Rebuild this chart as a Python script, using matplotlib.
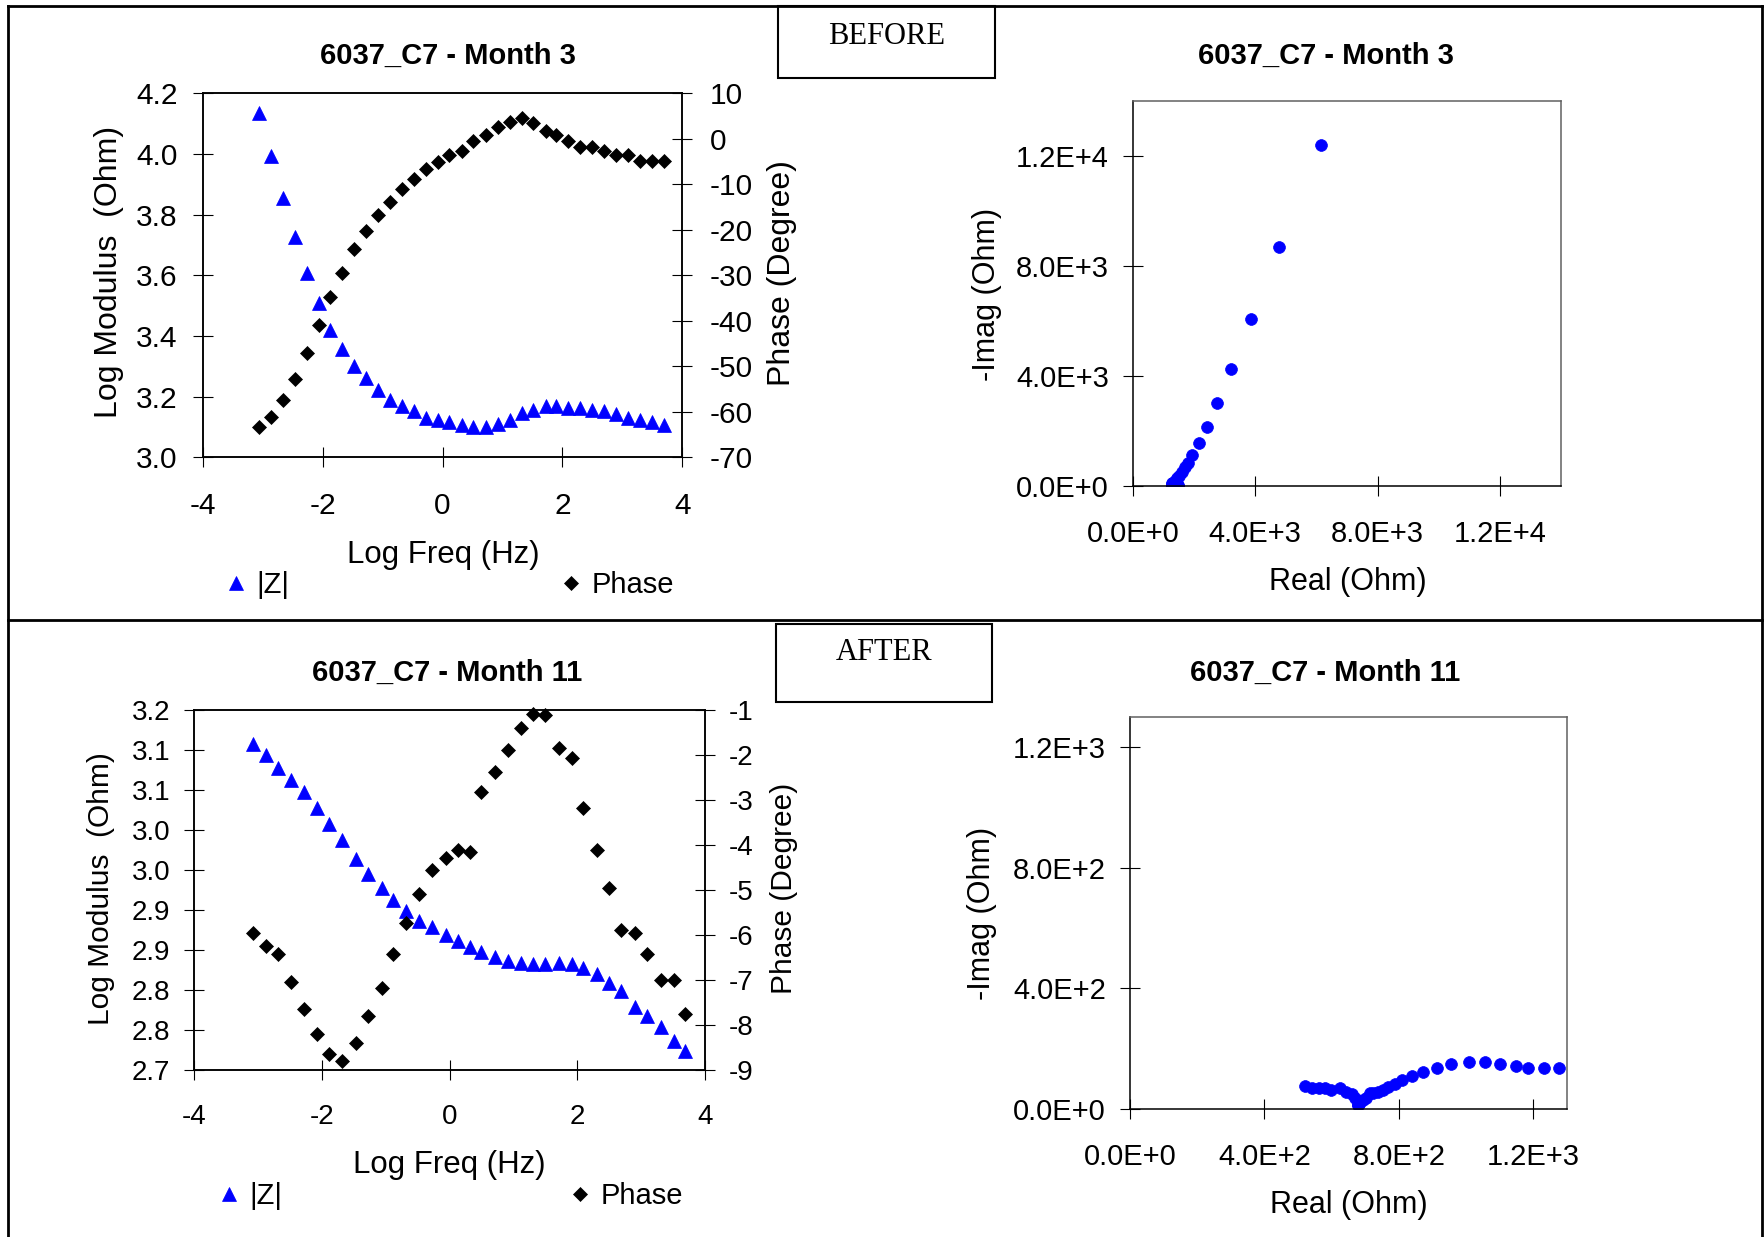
import numpy as np
import matplotlib.pyplot as plt
from matplotlib.lines import Line2D
from matplotlib.patches import Rectangle

# Bode data, Month 3 (before)
logf_m3 = [-3.06, -2.86, -2.66, -2.46, -2.26, -2.06, -1.87, -1.67, -1.47, -1.27, -1.07, -0.87,
           -0.67, -0.47, -0.27, -0.07, 0.11, 0.33, 0.51, 0.73, 0.93, 1.12, 1.33, 1.51, 1.73,
           1.90, 2.10, 2.30, 2.50, 2.70, 2.90, 3.10, 3.30, 3.50, 3.70]
logz_m3 = [4.135, 3.993, 3.855, 3.725, 3.607, 3.508, 3.420, 3.356, 3.301, 3.262, 3.222, 3.189,
           3.169, 3.151, 3.129, 3.123, 3.115, 3.108, 3.101, 3.101, 3.110, 3.123, 3.145, 3.156,
           3.170, 3.170, 3.164, 3.164, 3.156, 3.151, 3.143, 3.129, 3.123, 3.117, 3.108]
phase_m3 = [-63.4, -61.2, -57.3, -52.9, -47.1, -40.9, -34.8, -29.6, -24.3, -20.3, -16.7, -13.8,
            -11.1, -8.9, -6.7, -5.2, -3.6, -2.7, -0.5, 0.8, 2.5, 3.8, 4.5, 3.4, 1.7, 0.8, -0.5,
            -1.8, -1.8, -2.7, -3.6, -3.6, -4.8, -4.8, -4.8]

# Bode data, Month 11 (after)
logf_m11 = [-3.07, -2.88, -2.69, -2.48, -2.28, -2.07, -1.88, -1.69, -1.47, -1.28, -1.06, -0.88,
            -0.68, -0.47, -0.28, -0.06, 0.13, 0.32, 0.50, 0.71, 0.91, 1.12, 1.31, 1.50, 1.72,
            1.91, 2.09, 2.31, 2.50, 2.69, 2.91, 3.09, 3.31, 3.51, 3.69]
logz_m11 = [3.107, 3.093, 3.077, 3.062, 3.047, 3.027, 3.007, 2.987, 2.964, 2.945, 2.927, 2.912,
            2.899, 2.886, 2.879, 2.869, 2.861, 2.854, 2.847, 2.841, 2.836, 2.834, 2.832, 2.832,
            2.834, 2.832, 2.827, 2.820, 2.809, 2.799, 2.779, 2.767, 2.754, 2.736, 2.724]
phase_m11 = [-5.95, -6.24, -6.43, -7.04, -7.64, -8.21, -8.65, -8.79, -8.39, -7.81, -7.19, -6.43,
             -5.73, -5.10, -4.56, -4.30, -4.12, -4.16, -2.84, -2.38, -1.89, -1.41, -1.10, -1.13,
             -1.85, -2.07, -3.19, -4.12, -4.96, -5.90, -5.95, -6.43, -7.00, -7.00, -7.76]

# Nyquist data
real_m3 = [6140, 4765, 3850, 3190, 2735, 2405, 2145, 1940, 1815, 1715, 1600, 1500, 1448, 1400,
           1340, 1322, 1300, 1281, 1262, 1262, 1287, 1324, 1392, 1429, 1478, 1479, 1459, 1458,
           1431, 1414, 1387, 1343, 1322, 1304, 1277]
imag_m3 = [12400, 8700, 6070, 4260, 3020, 2140, 1570, 1125, 845, 680, 500, 380, 290, 220, 160,
           120, 82, 60, 11, -18, -56, -88, -110, -85, -44, -21, 13, 46, 45, 67, 87, 85, 111,
           109, 107]
real_m11 = [1276, 1232, 1185, 1149, 1102, 1055, 1008, 955, 912, 872, 840, 810, 787, 767, 752,
            737, 724, 713, 702, 692, 685, 681, 679, 679, 682, 680, 670, 660, 643, 626, 598, 580,
            562, 540, 520]
imag_m11 = [135, 135, 135, 144, 148, 155, 155, 148, 135, 122, 110, 96, 82, 72, 64, 57, 54, 52,
            38, 30, 22, 17, 13, 13, 22, 26, 38, 50, 58, 70, 62, 68, 69, 68, 76]

# axis ticks / labels
freq_ticks = [-4, -2, 0, 2, 4]
z_ticks_m3 = [3.0, 3.2, 3.4, 3.6, 3.8, 4.0, 4.2]
z_labels_m3 = ['3.0', '3.2', '3.4', '3.6', '3.8', '4.0', '4.2']
ph_ticks_m3 = [-70, -60, -50, -40, -30, -20, -10, 0, 10]
z_ticks_m11 = [2.70, 2.75, 2.80, 2.85, 2.90, 2.95, 3.00, 3.05, 3.10, 3.15]
z_labels_m11 = ['2.7', '2.8', '2.8', '2.9', '2.9', '3.0', '3.0', '3.1', '3.1', '3.2']
ph_ticks_m11 = [-9, -8, -7, -6, -5, -4, -3, -2, -1]
nyq_ticks_m3 = [0, 4000, 8000, 12000]
nyq_labels_m3 = ['0.0E+0', '4.0E+3', '8.0E+3', '1.2E+4']
nyq_ticks_m11 = [0, 400, 800, 1200]
nyq_labels_m11 = ['0.0E+0', '4.0E+2', '8.0E+2', '1.2E+3']

W, H = 1764, 1237
plt.rcParams['font.family'] = ['Liberation Sans', 'DejaVu Sans']
plt.rcParams['axes.unicode_minus'] = False

fig = plt.figure(figsize=(W / 100, H / 100), dpi=100)
BLUE = '#0000FF'
TRI_MS, DIA_MS, DOT_MS = 9.8, 6.8, 8.5


def box(l, t, r, b):
    return fig.add_axes([l / W, 1 - b / H, (r - l) / W, (b - t) / H])


def ftext(x, y, s, **kw):
    fig.text(x / W, 1 - y / H, s, ha='center', va='center', **kw)


def bode(pos, f, z, ph, zlim, zt, zl, phlim, pht, fs, pads):
    ax = box(*pos)
    ax.plot(f, z, ls='none', marker='^', ms=TRI_MS, mew=0.5, color=BLUE, clip_on=False)
    ax.set_xlim(-4, 4)
    ax.set_ylim(*zlim)
    ax.set_xticks(freq_ticks)
    ax.set_yticks(zt)
    ax.set_yticklabels(zl)
    ax2 = ax.twinx()
    ax2.plot(f, ph, ls='none', marker='D', ms=DIA_MS, mew=0.5, color='k', clip_on=False)
    ax2.set_ylim(*phlim)
    ax2.set_yticks(pht)
    ax.tick_params(axis='x', direction='inout', length=14.4, width=0.8, labelsize=fs, pad=pads[0])
    ax.tick_params(axis='y', direction='inout', length=14.4, width=0.8, labelsize=fs, pad=pads[1])
    ax2.tick_params(axis='y', direction='inout', length=14.4, width=0.8, labelsize=fs, pad=pads[2])
    for a in (ax, ax2):
        for s in a.spines.values():
            s.set_linewidth(1.1)
            s.set_color('k')
    return ax


def nyquist(pos, x, y, lim, ticks, labels, fs):
    ax = box(*pos)
    ax.plot(x, y, ls='none', marker='o', ms=DOT_MS, mew=0.5, color=BLUE)
    ax.set_xlim(0, lim)
    ax.set_ylim(0, lim)
    ax.set_xticks(ticks)
    ax.set_xticklabels(labels)
    ax.set_yticks(ticks)
    ax.set_yticklabels(labels)
    ax.tick_params(axis='x', direction='inout', length=14.4, width=0.8, labelsize=fs, pad=17)
    ax.tick_params(axis='y', direction='inout', length=14.4, width=0.8, labelsize=fs, pad=10)
    for k in ('left', 'bottom'):
        ax.spines[k].set_linewidth(1.1)
        ax.spines[k].set_color('k')
    for k in ('top', 'right'):
        ax.spines[k].set_linewidth(1.1)
        ax.spines[k].set_color('#606060')
    return ax


def legend_pair(y, x1, x2, fs):
    tri = Line2D([], [], ls='none', marker='^', ms=TRI_MS, mew=0.5, color=BLUE)
    dia = Line2D([], [], ls='none', marker='D', ms=DIA_MS, mew=0.5, color='k')
    em = fs * 100 / 72
    for h, lab, x in ((tri, '|Z|', x1), (dia, 'Phase', x2)):
        fig.legend([h], [lab], loc='center left', bbox_to_anchor=((x - 0.4 * em) / W, 1 - y / H),
                   frameon=False, borderpad=0, borderaxespad=0, handlelength=0.8,
                   handletextpad=0.3, fontsize=fs)


# ---- top row: Month 3 ----
bode((202.7, 93.3, 682.3, 457.3), logf_m3, logz_m3, phase_m3, (3.0, 4.2), z_ticks_m3, z_labels_m3,
     (-70, 10), ph_ticks_m3, 21.5, (18, 11, 12.5))
ftext(448, 56, '6037_C7 - Month 3', fontsize=21, fontweight='bold')
ftext(109, 272, 'Log Modulus  (Ohm)', fontsize=23, rotation=90)
ftext(782, 273, 'Phase (Degree)', fontsize=23, rotation=90)
ftext(443, 555, 'Log Freq (Hz)', fontsize=22.5)
legend_pair(585, 236, 571, 21)

nyquist((1133, 101, 1561, 486), real_m3, imag_m3, 14000, nyq_ticks_m3, nyq_labels_m3, 21)
ftext(1326, 56, '6037_C7 - Month 3', fontsize=21, fontweight='bold')
ftext(987, 294, '-Imag (Ohm)', fontsize=22, rotation=90)
ftext(1348, 582, 'Real (Ohm)', fontsize=22)

# ---- bottom row: Month 11 ----
bode((194, 709.5, 705, 1070), logf_m11, logz_m11, phase_m11, (2.70, 3.15), z_ticks_m11, z_labels_m11,
     (-9, -1), ph_ticks_m11, 20, (17, 10, 10))
ftext(447, 673, '6037_C7 - Month 11', fontsize=21, fontweight='bold')
ftext(101, 889, 'Log Modulus  (Ohm)', fontsize=21.5, rotation=90)
ftext(784, 888, 'Phase (Degree)', fontsize=21.5, rotation=90)
ftext(449, 1165, 'Log Freq (Hz)', fontsize=22.5)
legend_pair(1196, 229, 580, 21)

nyquist((1130, 717, 1567, 1109), real_m11, imag_m11, 1300, nyq_ticks_m11, nyq_labels_m11, 21)
ftext(1325, 673, '6037_C7 - Month 11', fontsize=21, fontweight='bold')
ftext(982, 913, '-Imag (Ohm)', fontsize=22, rotation=90)
ftext(1349, 1205, 'Real (Ohm)', fontsize=22)

# ---- table frame and BEFORE / AFTER boxes ----
def fline(x0, y0, x1, y1, lw=2.0):
    fig.add_artist(Line2D([x0 / W, x1 / W], [1 - y0 / H, 1 - y1 / H], color='k', lw=lw,
                          transform=fig.transFigure))

fline(8, 6, 1762, 6)
fline(8, 620, 1762, 620)
fline(8, 6, 8, 1237)
fline(1762, 6, 1762, 1237)

for (l, t, r, b), lab, yc in (((778, 6, 995, 78), 'BEFORE', 36), ((776, 624, 992, 702), 'AFTER', 652)):
    fig.add_artist(Rectangle((l / W, 1 - b / H), (r - l) / W, (b - t) / H, fill=True, fc='white',
                             ec='k', lw=1.5, transform=fig.transFigure))
    fig.text((l + r) / 2 / W, 1 - yc / H, lab, ha='center', va='center', fontsize=22,
             family=['Liberation Serif', 'DejaVu Serif'])

fig.savefig('out.png', dpi=100)
